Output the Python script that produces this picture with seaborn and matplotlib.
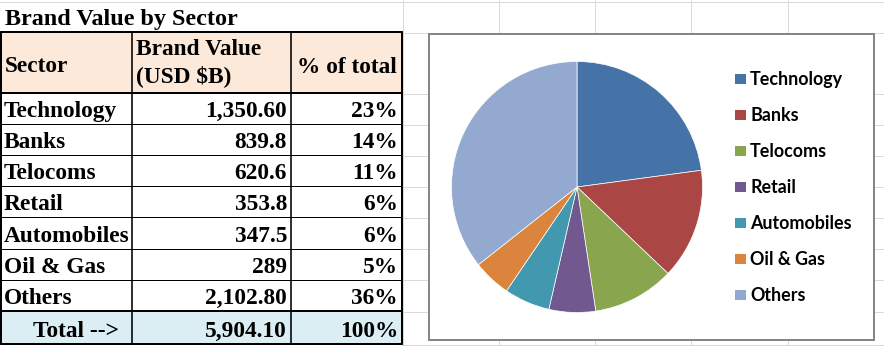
import matplotlib
matplotlib.use("Agg")
import matplotlib.pyplot as plt
import seaborn as sns
from matplotlib.patches import Rectangle
from matplotlib.lines import Line2D

# ---------------- data ----------------
title = "Brand Value by Sector"
headers = ["Sector", "Brand Value", "(USD $B)", "% of total"]
sectors = ["Technology", "Banks", "Telocoms", "Retail", "Automobiles", "Oil & Gas", "Others"]
brand_values = [1350.6, 839.8, 620.6, 353.8, 347.5, 289.0, 2102.8]
value_labels = ["1,350.60", "839.8", "620.6", "353.8", "347.5", "289", "2,102.80"]
pct_labels = ["23%", "14%", "11%", "6%", "6%", "5%", "36%"]
total_text = "Total -->"
total_value = "5,904.10"
total_pct = "100%"
colors = ["#4572A7", "#AA4643", "#89A54E", "#71588F", "#4198AF", "#DB843D", "#93A9CF"]

# ---------------- setup ----------------
sns.set_theme(style="white")
palette = sns.color_palette(colors)
W, H = 884, 346
fig = plt.figure(figsize=(W / 100, H / 100), dpi=100)
fig.patch.set_facecolor("white")
base = fig.add_axes([0, 0, 1, 1])
base.set_xlim(0, W)
base.set_ylim(H, 0)
base.axis("off")
PX = 0.72  # points per pixel

SERIF = ["Liberation Serif", "DejaVu Serif"]
SANS = ["Lato", "DejaVu Sans"]
renderer = fig.canvas.get_renderer()


def fit(text, target, family, weight="bold"):
    t = base.text(0, 0, text, fontsize=20, family=family, weight=weight)
    w = t.get_window_extent(renderer).width
    t.remove()
    return 20 * target / w


fs_table = fit("Technology", 113, SERIF)
fs_title = fit(title, 233, SERIF)
fs_leg = fit("Technology", 93, SANS)

# ---------------- Excel gridlines ----------------
grid_c = "#D9D9D9"
grid_x = [402, 498, 594, 690, 787, 883]
grid_y = [1, 32, 93, 124, 155, 186, 217, 248, 279, 311, 344]
for gx in grid_x:
    base.plot([gx + 0.5, gx + 0.5], [0, H], color=grid_c, lw=PX, zorder=0)
for gy in grid_y:
    x0 = 0 if gy == 1 else 402
    base.plot([x0, W], [gy + 0.5, gy + 0.5], color=grid_c, lw=PX, zorder=0)

# ---------------- table ----------------
L, C1, C2, R = 1, 132, 291, 402
TOP, HB = 32, 93
row_edges = [93, 124.1, 155.2, 186.3, 217.4, 248.5, 279.6, 310.7, 344]

base.add_patch(Rectangle((L, TOP), R - L, HB - TOP, facecolor="#FDE9D9", edgecolor="none", zorder=1))
base.add_patch(Rectangle((L, row_edges[7]), R - L, row_edges[8] - row_edges[7],
                         facecolor="#DAEEF3", edgecolor="none", zorder=1))

# thin row lines
for y in row_edges[1:7]:
    base.plot([L, R], [y, y], color="black", lw=1.0 * PX, zorder=3)
# thick lines
for y in [TOP, HB, row_edges[7], row_edges[8]]:
    base.plot([L, R], [y, y], color="black", lw=2.0 * PX, zorder=4)
for x in [L, R]:
    base.plot([x, x], [TOP, row_edges[8]], color="black", lw=2.0 * PX, zorder=4)
for x in [C1, C2]:
    base.plot([x, x], [TOP, row_edges[8]], color="black", lw=1.6 * PX, zorder=4)

txt = dict(family=SERIF, weight="bold", color="black", va="baseline", zorder=5)
base.text(5, 25, title, fontsize=fs_title, ha="left", **txt)
base.text(5, 72, headers[0], fontsize=fs_table, ha="left", **txt)
base.text(136, 55, headers[1], fontsize=fs_table, ha="left", **txt)
base.text(136, 82, headers[2], fontsize=fs_table, ha="left", **txt)
base.text(297, 73, headers[3], fontsize=fs_table, ha="left", **txt)

for i, (s, v, p) in enumerate(zip(sectors, value_labels, pct_labels)):
    yb = row_edges[i + 1] - 7
    base.text(4, yb, s, fontsize=fs_table, ha="left", **txt)
    base.text(287, yb, v, fontsize=fs_table, ha="right", **txt)
    base.text(398, yb, p, fontsize=fs_table, ha="right", **txt)
yb = row_edges[8] - 7
base.text(33, yb, total_text, fontsize=fs_table, ha="left", **txt)
base.text(287, yb, total_value, fontsize=fs_table, ha="right", **txt)
base.text(398, yb, total_pct, fontsize=fs_table, ha="right", **txt)

# ---------------- chart box ----------------
base.add_patch(Rectangle((429, 34), 445, 306, facecolor="white", edgecolor="#868686",
                         lw=2.0 * PX, zorder=6))

# ---------------- pie ----------------
cx, cy, r = 577, 187, 125.5
pie_ax = fig.add_axes([(cx - r) / W, (H - (cy + r)) / H, 2 * r / W, 2 * r / H])
pie_ax.set_zorder(10)
pie_ax.patch.set_alpha(0)
pie_ax.pie(brand_values, colors=palette, startangle=90, counterclock=False,
           wedgeprops=dict(edgecolor="white", linewidth=0.5))
pie_ax.set_xlim(-1, 1)
pie_ax.set_ylim(-1, 1)
pie_ax.set_aspect("equal")
pie_ax.axis("off")

# ---------------- legend ----------------
for i, (s, c) in enumerate(zip(sectors, palette)):
    yb = 85 + 36 * i
    base.add_patch(Rectangle((735, yb - 11), 11, 10, facecolor=c, edgecolor="none", zorder=8))
    base.text(750, yb, s, fontsize=fs_leg, family=SANS, weight="bold", color="black",
              ha="left", va="baseline", zorder=8)

fig.savefig("out.png", dpi=100, facecolor="white")
